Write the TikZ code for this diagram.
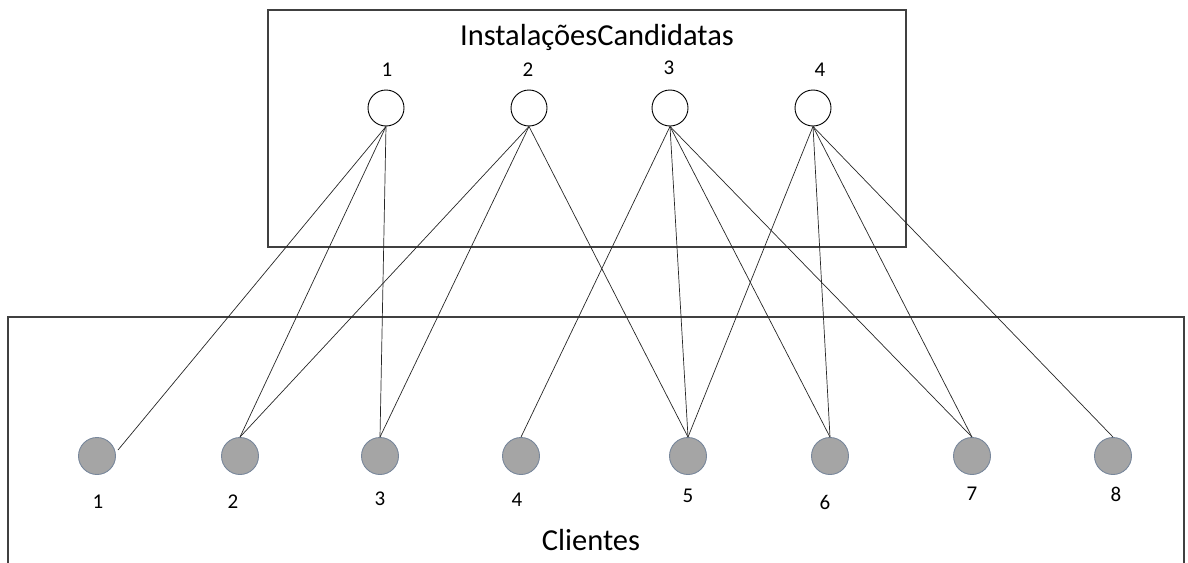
\documentclass[tikz,border=0pt]{standalone}
\usepackage{fontspec}
\setmainfont{Carlito}
\begin{document}
\begin{tikzpicture}[x=1pt,y=-1pt,
  boxline/.style={draw={rgb,255:red,64;green,64;blue,64},line width=1.3pt},
  facility/.style={circle,draw=black,fill=white,line width=0.9pt,minimum size=36pt,inner sep=0pt},
  client/.style={circle,draw={rgb,255:red,120;green,135;blue,155},fill={rgb,255:red,165;green,165;blue,165},line width=0.9pt,minimum size=37pt,inner sep=0pt},
  numlabel/.style={font=\fontsize{21}{23}\selectfont,inner sep=0pt},
  title/.style={font=\fontsize{30.5}{32}\selectfont,inner sep=0pt},
  link/.style={draw=black!85,line width=0.7pt}]
\useasboundingbox (0,0) rectangle (1188,562);
\begin{scope}
\clip (0,0) rectangle (1188,562);
\draw[boxline] (268,10) rectangle (906,247);
\draw[boxline] (8,317) rectangle (1184,580);
\end{scope}
\node[title] (ttop) at (597,37) {InstalaçõesCandidatas};
\node[title] (tbot) at (591,540) {Clientes};
% facilities
\node[facility] (f1) at (386,108) {};
\node[facility] (f2) at (529,108) {};
\node[facility] (f3) at (670,108) {};
\node[facility] (f4) at (813,108) {};
\node[numlabel] (lf1) at (387,70) {1};
\node[numlabel] (lf2) at (528,70) {2};
\node[numlabel] (lf3) at (669,68) {3};
\node[numlabel] (lf4) at (820,70) {4};
% clients
\node[client] (c1) at (97,456) {};
\node[client] (c2) at (240,456) {};
\node[client] (c3) at (380,456) {};
\node[client] (c4) at (521,456) {};
\node[client] (c5) at (688,456) {};
\node[client] (c6) at (830,456) {};
\node[client] (c7) at (972,456) {};
\node[client] (c8) at (1113,456) {};
\node[numlabel] (lc1) at (98,502) {1};
\node[numlabel] (lc2) at (233,502) {2};
\node[numlabel] (lc3) at (380,499) {3};
\node[numlabel] (lc4) at (517,500) {4};
\node[numlabel] (lc5) at (688,496) {5};
\node[numlabel] (lc6) at (825,502) {6};
\node[numlabel] (lc7) at (972,494) {7};
\node[numlabel] (lc8) at (1116,494) {8};
\coordinate (e1) at (118,450);
% links
\draw[link] (f1.south) -- (e1);
\draw[link] (f1.south) -- (c2.north);
\draw[link] (f1.south) -- (c3.north);
\draw[link] (f2.south) -- (c2.north);
\draw[link] (f2.south) -- (c3.north);
\draw[link] (f2.south) -- (c5.north);
\draw[link] (f3.south) -- (c4.north);
\draw[link] (f3.south) -- (c5.north);
\draw[link] (f3.south) -- (c6.north);
\draw[link] (f3.south) -- (c7.north);
\draw[link] (f4.south) -- (c5.north);
\draw[link] (f4.south) -- (c6.north);
\draw[link] (f4.south) -- (c7.north);
\draw[link] (f4.south) -- (c8.north);
\end{tikzpicture}
\end{document}
